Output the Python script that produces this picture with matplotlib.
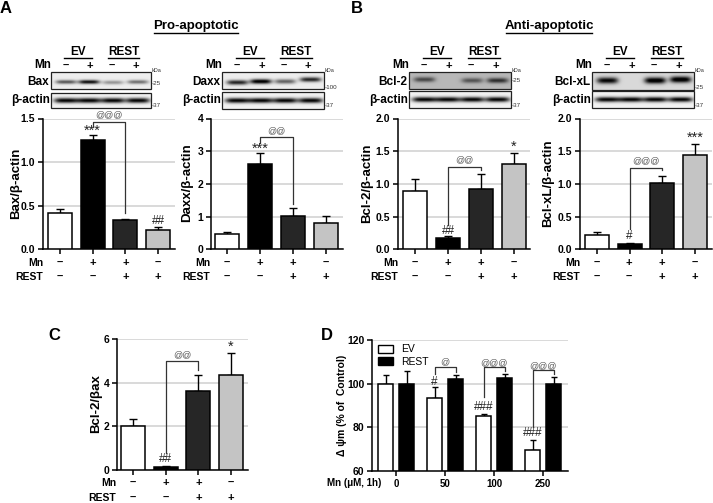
import numpy as np
import matplotlib
matplotlib.use('Agg')
import matplotlib.pyplot as plt
from matplotlib.patches import Rectangle, Patch

plt.rcParams['font.family'] = ['Liberation Sans', 'DejaVu Sans']

# ── Data ──────────────────────────────────────────
MN_SIGNS   = ['–', '+', '+', '–']
REST_SIGNS = ['–', '–', '+', '+']

bax_vals  = [0.42, 1.25, 0.335, 0.22]
bax_errs  = [0.045, 0.06, 0.015, 0.04]
daxx_vals = [0.46, 2.62, 1.02, 0.80]
daxx_errs = [0.06, 0.34, 0.25, 0.23]
bcl2_vals = [0.89, 0.175, 0.92, 1.30]
bcl2_errs = [0.19, 0.025, 0.24, 0.17]
bclx_vals = [0.225, 0.085, 1.02, 1.44]
bclx_errs = [0.045, 0.015, 0.10, 0.17]
ratio_vals = [2.0, 0.13, 3.62, 4.36]
ratio_errs = [0.34, 0.04, 0.75, 1.0]

mn_doses = ['0', '50', '100', '250']
ev_vals   = [100, 93.6, 85, 69.8]
ev_errs   = [4, 5, 1.3, 4.2]
rest_vals = [100, 102.1, 102.8, 99.7]
rest_errs = [6, 2, 1.8, 3.2]

# band strength per lane, 0 = no band
bax_bands   = [0.6, 0.9, 0.35, 0.5]
daxx_bands  = [0.8, 1.0, 0.55, 0.8]
bcl2_bands  = [0.45, 0.0, 0.4, 0.55]
bclx_bands  = [0.85, 0.0, 0.95, 0.95]
actin_bands = [0.95, 0.95, 0.95, 0.95]

BAR_COLORS = ['white', 'black', '#262626', '#c4c4c4']
W, H = 713, 503

fig = plt.figure(figsize=(W / 100, H / 100), dpi=100)

# full figure overlay, in pixels, for blots and labels
page = fig.add_axes([0, 0, 1, 1], zorder=5)
page.set_xlim(0, W)
page.set_ylim(H, 0)
page.axis('off')
page.patch.set_alpha(0)


def make_axes(left, right, top, bottom):
    ax = fig.add_axes([left / W, 1 - bottom / H, (right - left) / W, (bottom - top) / H])
    for side in ['top', 'right']:
        ax.spines[side].set_visible(False)
    for side in ['left', 'bottom']:
        ax.spines[side].set_linewidth(1.1)
    ax.tick_params(width=1.1, length=3.5, pad=2, labelsize=7.5)
    ax.set_axisbelow(True)
    ax.grid(axis='y', color='#d0d0d0', linewidth=1.1)
    return ax


def bracket(ax, x1, x2, top, low1, low2, label, label_y):
    ax.plot([x1, x1, x2, x2], [low1, top, top, low2], color='#333333', lw=0.9, clip_on=False, zorder=4)
    ax.text((x1 + x2) / 2, label_y, label, ha='center', va='center', fontsize=6.5,
            color='#555555', clip_on=False)


def mark(ax, x, y, label):
    size = 10.5 if label[0] == '*' else 8.5
    ax.text(x, y, label, ha='center', va='center', fontsize=size, color='#222222', clip_on=False)


def bar_panel(box, lanes_px, vals, errs, ymax, yticks, fmt, ylabel, label_x, row_x, row_ys):
    left, right, top, bottom = box
    step = (lanes_px[-1] - lanes_px[0]) / 3
    ax = make_axes(left, right, top, bottom)
    ax.bar(range(4), vals, width=24 / step, color=BAR_COLORS, edgecolor='black', linewidth=1.1, zorder=3)
    ax.errorbar(range(4), vals, yerr=[np.zeros(4), errs], fmt='none', ecolor='black',
                elinewidth=1.0, capsize=2.8, capthick=1.0, zorder=2)
    ax.set_xlim((left - lanes_px[0]) / step, (right - lanes_px[0]) / step)
    ax.set_ylim(0, ymax)
    ax.set_xticks(range(4))
    ax.set_xticklabels([])
    ax.set_yticks(yticks)
    ax.set_yticklabels([fmt % t for t in yticks], fontweight='bold')
    page.text(label_x, (top + bottom) / 2 - 1, ylabel, rotation=90, ha='center', va='center',
              fontsize=9.5, fontweight='bold')
    page.text(row_x, row_ys[0], 'Mn', ha='right', va='center', fontsize=7.5, fontweight='bold')
    page.text(row_x, row_ys[1], 'REST', ha='right', va='center', fontsize=7.5, fontweight='bold')
    for px, mn, rest in zip(lanes_px, MN_SIGNS, REST_SIGNS):
        page.text(px, row_ys[0], mn, ha='center', va='center', fontsize=8, fontweight='bold')
        page.text(px, row_ys[1], rest, ha='center', va='center', fontsize=8, fontweight='bold')
    return ax


def blot(x0, x1, y0, y1, bands, bg=0.93, thick=2.0, spread=0.105, shift=(0, 0, 0, 0)):
    w, h = int(x1 - x0) * 2, int(y1 - y0) * 2
    xx, yy = np.meshgrid(np.linspace(0, 1, w), np.linspace(y0, y1, h))
    dark = np.zeros_like(xx)
    for frac, amp, dy in zip([0.15, 0.38, 0.62, 0.87], bands, shift):
        cy = (y0 + y1) / 2 + dy
        dark += amp * np.exp(-((xx - frac) / spread) ** 4) * np.exp(-((yy - cy) / thick) ** 2)
    img = np.clip(bg - dark, 0, 1)
    page.imshow(img, extent=(x0, x1, y1, y0), cmap='gray', vmin=0, vmax=1, aspect='auto',
                interpolation='bilinear', zorder=1)
    page.add_patch(Rectangle((x0, y0), x1 - x0, y1 - y0, fill=False, edgecolor='#222222', lw=0.9, zorder=2))


def blot_header(name, x0, x1, r_top, a_top, a_bot, kda, kda_label, lanes, ev, rest, bands,
                bg=0.93, r_bot=89, thick=2.0, shift=(0, 0, 0, 0)):
    blot(x0, x1, r_top, r_bot, bands, bg=bg, thick=thick, shift=shift)
    blot(x0, x1, a_top, a_bot, actin_bands, bg=0.95, thick=2.6, spread=0.12)
    page.text(x0 - 2, 81.5, name, ha='right', va='center', fontsize=8.5, fontweight='bold')
    page.text(x0 - 1, 100, 'β-actin', ha='right', va='center', fontsize=8.5, fontweight='bold')
    page.text(x0, 65, 'Mn', ha='right', va='center', fontsize=8.5, fontweight='bold')
    for px, s in zip(lanes, ['–', '+', '–', '+']):
        page.text(px, 65.5, s, ha='center', va='center', fontsize=8, fontweight='bold')
    for label, (a, b) in [('EV', ev), ('REST', rest)]:
        page.text((a + b) / 2, 52, label, ha='center', va='center', fontsize=8.5, fontweight='bold')
        page.plot([a, b], [58, 58], color='black', lw=1.0)
    page.text(x1 + 1, 70, 'kDa', ha='left', va='center', fontsize=4, color='#333333')
    page.text(x1 + 1, kda, kda_label, ha='left', va='center', fontsize=4.5, color='#333333')
    page.text(x1 + 1, 105, '-37', ha='left', va='center', fontsize=4.5, color='#333333')


# ── Western blots ─────────────────────────────────────
blot_header('Bax', 51, 151, 72, 93, 108, 83, '-25', [66, 90, 112, 136], (64, 92), (108, 139),
            bax_bands, shift=(1.5, 1.5, 2, 1.5))
blot_header('Daxx', 222, 324, 72, 92, 109, 87, '-100', [237, 262, 284, 308], (236, 264), (280, 312),
            daxx_bands, shift=(2, 1, 1, -1), thick=2.4)
blot_header('Bcl-2', 409, 511, 72, 91, 108, 80, '-25', [424, 449, 471, 496], (423, 451), (468, 500),
            bcl2_bands, bg=0.72, shift=(-1, 0, 0, 0), thick=2.6)
blot_header('Bcl-xL', 592, 694, 72, 91, 108, 87, '-25', [607, 632, 654, 679], (606, 634), (651, 683),
            bclx_bands, bg=0.85, r_bot=90, shift=(-0.5, 0, -0.5, -1.5), thick=3.2)

# ── Bar panels ────────────────────────────────────────
ROWS = (263, 277)
ax = bar_panel((43, 175, 118.5, 249.5), [60, 93, 126, 158], bax_vals, bax_errs, 1.5,
               [0, 0.5, 1.0, 1.5], '%.1f', 'Bax/β-actin', 16, 43, ROWS)
bracket(ax, 1, 2, 1.46, 1.40, 0.42, '@@@', 1.54)
mark(ax, 1, 1.36, '***')
mark(ax, 3, 0.33, '##')

ax = bar_panel((211, 343, 118.5, 249.5), [227, 260, 293, 326], daxx_vals, daxx_errs, 4,
               [0, 1, 2, 3, 4], '%d', 'Daxx/β-actin', 187, 210, ROWS)
bracket(ax, 1, 2, 3.42, 3.24, 1.4, '@@', 3.62)
mark(ax, 1, 3.08, '***')

ax = bar_panel((398, 530, 118.5, 249.5), [415, 448, 481, 514], bcl2_vals, bcl2_errs, 2.0,
               [0, 0.5, 1.0, 1.5, 2.0], '%.1f', 'Bcl-2/β-actin', 367, 398, ROWS)
bracket(ax, 1, 2, 1.26, 0.37, 1.21, '@@', 1.37)
mark(ax, 1, 0.29, '##')
mark(ax, 3, 1.57, '*')

ax = bar_panel((580, 712, 118.5, 249.5), [597, 629, 662, 695], bclx_vals, bclx_errs, 2.0,
               [0, 0.5, 1.0, 1.5, 2.0], '%.1f', 'Bcl-xL/β-actin', 548, 580, ROWS)
bracket(ax, 1, 2, 1.25, 0.31, 1.21, '@@@', 1.36)
mark(ax, 1, 0.2, '#')
mark(ax, 3, 1.70, '***')

ax = bar_panel((117, 248, 339, 470), [133, 166, 199, 231], ratio_vals, ratio_errs, 6,
               [0, 2, 4, 6], '%d', 'Bcl-2/βax', 96, 116, (483, 498))
bracket(ax, 1, 2, 4.99, 0.79, 4.58, '@@', 5.3)
mark(ax, 1, 0.49, '##')
mark(ax, 3, 5.65, '*')

# ── Panel D ───────────────────────────────────────────
ax = make_axes(372, 568, 340, 471)
group_step = 49
offset = 10.5 / group_step
x = np.arange(4)
ax.bar(x - offset, np.array(ev_vals) - 60, bottom=60, width=15 / group_step, color='white',
       edgecolor='black', linewidth=1.1, zorder=3)
ax.bar(x + offset, np.array(rest_vals) - 60, bottom=60, width=15 / group_step, color='black',
       edgecolor='black', linewidth=1.1, zorder=3)
ax.errorbar(x - offset, ev_vals, yerr=[np.zeros(4), ev_errs], fmt='none', ecolor='black',
            elinewidth=1.0, capsize=2.5, capthick=1.0, zorder=2)
ax.errorbar(x + offset, rest_vals, yerr=[np.zeros(4), rest_errs], fmt='none', ecolor='black',
            elinewidth=1.0, capsize=2.5, capthick=1.0, zorder=2)
ax.set_xlim((372 - 396) / group_step, (568 - 396) / group_step)
ax.set_ylim(60, 120)
ax.set_xticks(x)
ax.set_xticklabels(mn_doses, fontweight='bold', fontsize=7)
ax.set_yticks([60, 80, 100, 120])
ax.set_yticklabels(['60', '80', '100', '120'], fontweight='bold', fontsize=7.5)
ax.legend(handles=[Patch(facecolor='white', edgecolor='black', label='EV'),
                   Patch(facecolor='black', edgecolor='black', label='REST')],
          loc='upper left', bbox_to_anchor=(0.0, 1.015), frameon=False, fontsize=7.5,
          handlelength=1.45, handleheight=0.8, labelspacing=0.22, borderpad=0.1, handletextpad=0.7)
page.text(342, 405, 'Δ ψm (% of  Control)', rotation=90, ha='center', va='center',
          fontsize=7.5, fontweight='bold')
page.text(381, 482.5, 'Mn (μM, 1h)', ha='right', va='center', fontsize=7, fontweight='bold')

bracket(ax, 1 - offset, 1 + offset, 107.8, 104.2, 105.5, '@', 110.2)
bracket(ax, 2 - offset, 2 + offset, 107.8, 93.7, 105.7, '@@@', 109.5)
bracket(ax, 3 - offset, 3 + offset, 106.2, 80.2, 104.2, '@@@', 108.3)
mark(ax, 1 - offset, 100.8, '#')
mark(ax, 2 - offset, 89.4, '###')
mark(ax, 3 - offset, 77.5, '###')

# ── Titles and panel letters ──────────────────────────
for text, px, py in [('A', 6, 8), ('B', 357, 8), ('C', 54, 335), ('D', 327, 335)]:
    page.text(px, py, text, ha='center', va='center', fontsize=12, fontweight='bold')
for text, px, a, b in [('Pro-apoptotic', 196, 154, 238), ('Anti-apoptotic', 549, 506, 592)]:
    page.text(px, 26, text, ha='center', va='center', fontsize=9.5, fontweight='bold')
    page.plot([a, b], [32.5, 32.5], color='black', lw=1.0)

page.set_xlim(0, W)
page.set_ylim(H, 0)
fig.savefig('out.png', dpi=100)
